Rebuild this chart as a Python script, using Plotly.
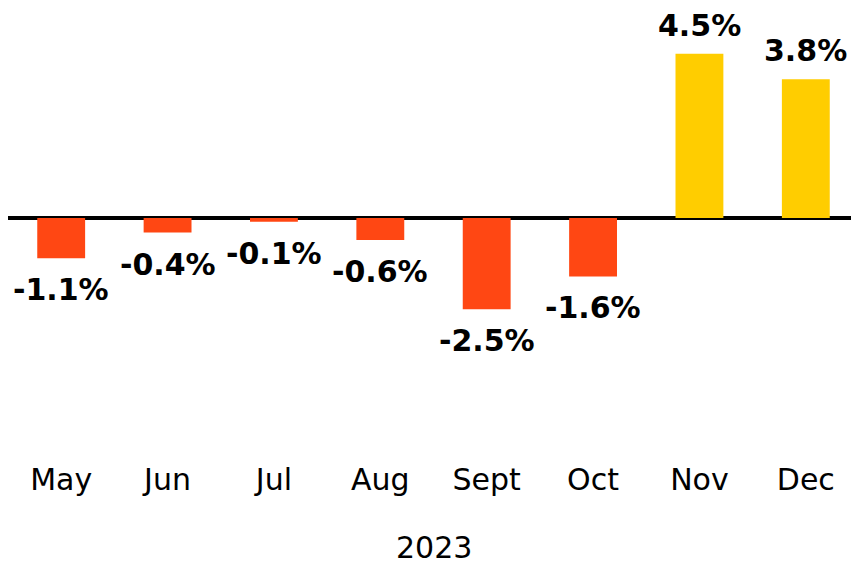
import plotly.graph_objects as go

months = ["May", "Jun", "Jul", "Aug", "Sept", "Oct", "Nov", "Dec"]
values = [-1.1, -0.4, -0.1, -0.6, -2.5, -1.6, 4.5, 3.8]
labels = ["-1.1%", "-0.4%", "-0.1%", "-0.6%", "-2.5%", "-1.6%", "4.5%", "3.8%"]
year_label = "2023"

NEG = "#FF4713"
POS = "#FFCD00"
colors = [POS if v > 0 else NEG for v in values]

fig = go.Figure()
fig.add_trace(go.Bar(x=months, y=values, marker=dict(color=colors, line=dict(width=0)),
                     width=0.45, hoverinfo="skip"))

for m, v, t in zip(months, values, labels):
    fig.add_annotation(x=m, y=v, text=t, showarrow=False,
                       yanchor="top" if v < 0 else "bottom",
                       yshift=-12 if v < 0 else 9,
                       font=dict(family="DejaVu Sans", size=30, color="#000000", weight="bold"))

fig.add_annotation(xref="paper", yref="paper", x=0.5, y=-0.196, text=year_label,
                   showarrow=False, yanchor="middle", xanchor="center",
                   font=dict(family="DejaVu Sans", size=30, color="#000000"))

fig.update_layout(
    width=851, height=556,
    margin=dict(l=0, r=0, t=0, b=105),
    plot_bgcolor="white", paper_bgcolor="white",
    showlegend=False,
    xaxis=dict(showgrid=False, showline=False, ticks="", zeroline=False,
               tickfont=dict(family="DejaVu Sans", size=30, color="#000000")),
    yaxis=dict(range=[-6.60, 5.75], showgrid=False, showticklabels=False,
               zeroline=True, zerolinecolor="#000000", zerolinewidth=4,
               showline=False, ticks="", layer="below traces"),
)

fig.write_html("out.html")
